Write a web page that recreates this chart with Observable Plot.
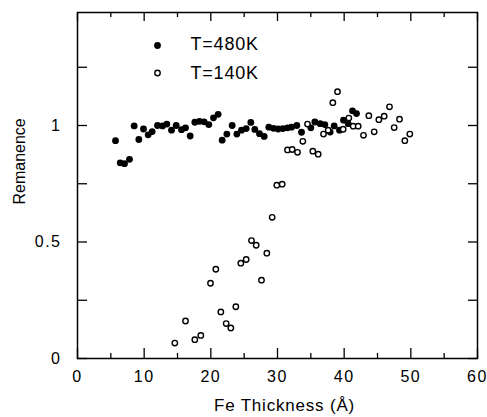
<!DOCTYPE html>
<html>
<head>
<meta charset="utf-8">
<script src="https://cdn.jsdelivr.net/npm/d3@7"></script>
<script src="https://cdn.jsdelivr.net/npm/@observablehq/plot@0.6"></script>
<style>
  html, body { margin: 0; padding: 0; background: #fff; }
  #chart svg { display: block; }
  #chart svg [aria-label="x-axis tick label"] text,
  #chart svg [aria-label="y-axis tick label"] text,
  #chart svg g[aria-label="x-axis"] text,
  #chart svg g[aria-label="y-axis"] text { letter-spacing: 1.5px; }
</style>
</head>
<body>
<div id="chart"></div>
<script>
// Series: T=480K (filled)
const hotX = [5.7, 6.4, 7.05, 7.8, 8.5, 9.2, 9.9, 10.6, 11.2, 12.0, 12.75, 13.4, 14.1, 14.8, 15.6, 16.2, 16.9, 17.6, 18.3, 19.0, 19.7, 20.4, 21.1, 21.7, 22.4, 23.2, 23.9, 24.6, 25.3, 26.0, 26.6, 27.3, 28.0, 28.7, 29.4, 30.1, 30.8, 31.5, 32.1, 32.9, 33.6, 35.0, 35.6, 36.4, 37.1, 37.9, 38.5, 39.3, 39.9, 40.6, 41.25, 41.85];
const hotY = [0.935, 0.84, 0.836, 0.855, 0.998, 0.94, 0.985, 0.96, 0.974, 1.0, 0.998, 1.006, 0.98, 1.0, 0.982, 0.99, 0.955, 1.014, 1.018, 1.016, 1.004, 1.033, 1.048, 0.937, 0.963, 1.0, 0.963, 0.98, 0.987, 1.013, 0.983, 0.965, 0.953, 0.993, 0.988, 0.985, 0.987, 0.99, 0.993, 1.0, 0.971, 0.99, 1.015, 1.008, 1.004, 0.972, 0.998, 0.98, 1.023, 1.008, 1.063, 1.051];
// Series: T=140K (open)
const coldX = [14.6, 16.2, 17.6, 18.5, 19.95, 20.75, 21.5, 22.3, 23.0, 23.75, 24.5, 25.3, 26.1, 26.8, 27.6, 28.4, 29.2, 29.9, 30.7, 31.5, 32.2, 33.0, 33.8, 34.5, 35.3, 36.1, 36.9, 37.6, 38.3, 39.0, 39.85, 40.7, 41.35, 42.1, 42.9, 43.7, 44.5, 45.2, 46.0, 46.8, 47.5, 48.3, 49.1, 49.85];
const coldY = [0.066, 0.161, 0.081, 0.099, 0.323, 0.383, 0.2, 0.15, 0.131, 0.222, 0.409, 0.425, 0.506, 0.486, 0.336, 0.452, 0.606, 0.744, 0.748, 0.895, 0.897, 0.885, 0.932, 1.006, 0.89, 0.877, 0.963, 0.98, 1.098, 1.145, 0.984, 1.032, 0.997, 0.997, 0.958, 1.042, 0.973, 1.025, 1.04, 1.08, 0.991, 1.027, 0.935, 0.963];

const seriesLabels = ["T=480K", "T=140K"];
const xTickLabels = [0, 10, 20, 30, 40, 50, 60];
const xMinorTicks = [5, 15, 25, 35, 45, 55];
const yTickLabels = [0, 0.5, 1];
const yTicks = [0, 0.25, 0.5, 0.75, 1, 1.25];
const xTitle = "Fe Thickness (Å)";
const yTitle = "Remanence";

const hot = hotX.map((x, i) => ({x, y: hotY[i]}));
const cold = coldX.map((x, i) => ({x, y: coldY[i]}));

const W = 487, H = 417;
const mT = 12, mB = 59, mL = 77, mR = 10;
const fh = H - mT - mB;
const fw = W - mL - mR;
const ink = "#000";

const chart = Plot.plot({
  width: W,
  height: H,
  marginTop: mT,
  marginBottom: mB,
  marginLeft: mL,
  marginRight: mR,
  style: {fontFamily: "'Liberation Sans', Arial, Helvetica, sans-serif", fontSize: "16px", color: ink, background: "#fff"},
  x: {domain: [0, 60], ticks: xTickLabels, tickSize: 0, tickPadding: 12, label: null, tickFormat: d => String(d)},
  y: {domain: [0, 1.485], ticks: yTickLabels, tickSize: 0, tickPadding: 16, label: null, tickFormat: d => String(d)},
  marks: [
    // bottom ticks
    Plot.tickX(xTickLabels, {x: d => d, insetTop: fh - 10, stroke: ink, strokeWidth: 1.3}),
    Plot.tickX(xMinorTicks, {x: d => d, insetTop: fh - 5, stroke: ink, strokeWidth: 1.3}),
    // top ticks
    Plot.tickX(xTickLabels, {x: d => d, insetBottom: fh - 9, stroke: ink, strokeWidth: 1.3}),
    Plot.tickX(xMinorTicks, {x: d => d, insetBottom: fh - 5, stroke: ink, strokeWidth: 1.3}),
    // left ticks
    Plot.tickY(yTicks, {y: d => d, insetRight: fw - 10, stroke: ink, strokeWidth: 1.3}),
    // right ticks
    Plot.tickY(yTicks, {y: d => d, insetLeft: fw - 9, stroke: ink, strokeWidth: 1.3}),
    Plot.frame({stroke: ink, strokeWidth: 1.5}),
    // data
    Plot.dot(hot, {x: "x", y: "y", r: 3.4, fill: ink, stroke: "none"}),
    Plot.dot(cold, {x: "x", y: "y", r: 2.7, fill: "#fff", stroke: ink, strokeWidth: 1.4}),
    // legend
    Plot.dot([seriesLabels[0]], {frameAnchor: "top-left", dx: 80, dy: 33, r: 3.4, fill: ink, stroke: "none"}),
    Plot.dot([seriesLabels[1]], {frameAnchor: "top-left", dx: 80, dy: 60.5, r: 2.7, fill: "#fff", stroke: ink, strokeWidth: 1.4}),
    Plot.text([seriesLabels[0]], {frameAnchor: "top-left", dx: 113, dy: 32, lineAnchor: "middle", text: d => d, textAnchor: "start", fontSize: 18, fill: ink, stroke: "none"}),
    Plot.text([seriesLabels[1]], {frameAnchor: "top-left", dx: 113, dy: 60.5, lineAnchor: "middle", text: d => d, textAnchor: "start", fontSize: 18, fill: ink, stroke: "none"}),
    // axis titles
    Plot.text([xTitle], {frameAnchor: "bottom", dx: 7, dy: 47, lineAnchor: "middle", text: d => d, fontSize: 17, fill: ink, stroke: "none"}),
    Plot.text([yTitle], {frameAnchor: "left", dx: -58, dy: 19, lineAnchor: "middle", rotate: -90, text: d => d, fontSize: 16, fill: ink, stroke: "none"})
  ]
});
document.getElementById("chart").appendChild(chart);
// letter spacing tweaks on the wide-set reference labels
chart.querySelectorAll("text").forEach(t => {
  const s = t.textContent;
  if (s === seriesLabels[0] || s === seriesLabels[1]) t.setAttribute("letter-spacing", "0.8");
  if (s === xTitle) t.setAttribute("letter-spacing", "0.8");
});
</script>
</body>
</html>
